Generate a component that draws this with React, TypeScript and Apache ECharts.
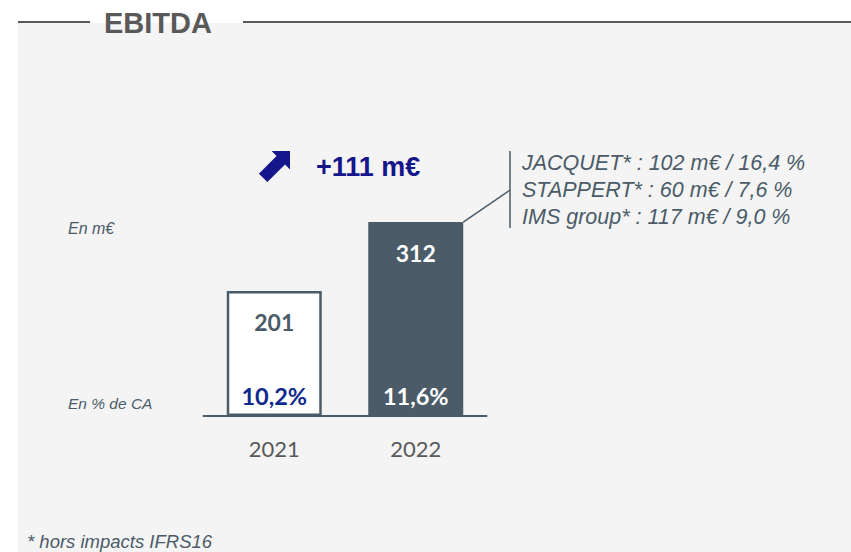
import React, { useEffect, useRef } from "react";
import * as echarts from "echarts";

const years = ["2021", "2022"];
const ebitda = [201, 312];
const margins = ["10,2%", "11,6%"];
const breakdown = [
  "JACQUET* : 102 m€ / 16,4 %",
  "STAPPERT* : 60 m€ / 7,6 %",
  "IMS group* : 117 m€ / 9,0 %",
];
const growthLabel = "+111 m€";
const title = "EBITDA";
const unitLabel = "En m€";
const marginLabel = "En % de CA";
const footnote = "* hors impacts IFRS16";

const SLATE = "#4b5b68";
const NAVY = "#16168c";
const ARIAL = "'Liberation Sans', Arial, sans-serif";
const CAL = "Lato, 'Open Sans', sans-serif";

function arrowPoints(tipX: number, tipY: number) {
  const s = Math.SQRT1_2;
  const u = [s, -s];
  const n = [s, s];
  const L = 38, h = 13, H = 26, w = 12;
  const tail = [tipX - L * u[0], tipY - L * u[1]];
  const neck = [tipX - h * u[0], tipY - h * u[1]];
  const p = (b: number[], k: number) => [b[0] + k * n[0], b[1] + k * n[1]];
  return [
    p(tail, w / 2),
    p(neck, w / 2),
    p(neck, H / 2),
    [tipX, tipY],
    p(neck, -H / 2),
    p(neck, -w / 2),
    p(tail, -w / 2),
  ];
}

export default function App() {
  const ref = useRef<HTMLDivElement>(null);
  useEffect(() => {
    document.body.style.margin = "0";
    const chart = echarts.init(ref.current!, null, { renderer: "svg" });
    const option: any = {
      animation: false,
      backgroundColor: "#ffffff",
      grid: { left: 203.5, right: 364.5, top: 167.3, bottom: 136 },
      xAxis: {
        type: "category",
        data: years,
        axisLine: { lineStyle: { color: SLATE, width: 2 } },
        axisTick: { show: false },
        axisLabel: { color: "#595959", fontSize: 22, fontFamily: CAL, margin: 21 },
        z: 5,
      },
      yAxis: { type: "value", min: 0, max: 400, show: false, splitLine: { show: false } },
      graphic: [
        { type: "rect", z: -10, shape: { x: 18, y: 23, width: 833, height: 529 }, style: { fill: "#f4f4f4" } },
        { type: "line", shape: { x1: 18, y1: 22, x2: 90, y2: 22 }, style: { stroke: "#595959", lineWidth: 2 } },
        { type: "line", shape: { x1: 243, y1: 22, x2: 851, y2: 22 }, style: { stroke: "#595959", lineWidth: 2 } },
        { type: "text", x: 104, y: 23, style: { text: title, font: `bold 29px ${ARIAL}`, fill: "#595959", verticalAlign: "middle" } },
        { type: "polygon", shape: { points: arrowPoints(290, 151) }, style: { fill: NAVY } },
        { type: "text", x: 316, y: 167, style: { text: growthLabel, font: `bold 27px ${ARIAL}`, fill: NAVY, verticalAlign: "middle" } },
        { type: "text", x: 68, y: 228, style: { text: unitLabel, font: `italic 16px ${ARIAL}`, fill: SLATE, verticalAlign: "middle" } },
        { type: "text", x: 68, y: 403, style: { text: marginLabel, font: `italic 15.5px ${ARIAL}`, fill: SLATE, verticalAlign: "middle" } },
        { type: "text", x: 27, y: 541, style: { text: footnote, font: `italic 18.5px ${ARIAL}`, fill: SLATE, verticalAlign: "middle" } },
        ...breakdown.map((t, i) => ({
          type: "text", x: 522, y: 163 + i * 27,
          style: { text: t, font: `italic 21.5px ${ARIAL}`, fill: SLATE, verticalAlign: "middle" },
        })),
      ],
      series: [
        {
          type: "bar",
          barWidth: 95,
          data: ebitda.map((v, i) => ({
            value: v,
            itemStyle: i === 0
              ? { color: "#ffffff", borderColor: SLATE, borderWidth: 2.5 }
              : { color: SLATE },
            label: { color: i === 0 ? SLATE : "#ffffff" },
          })),
          label: {
            show: true, position: "insideTop", distance: 19,
            fontSize: 23, fontWeight: "bold", fontFamily: CAL,
          },
        },
        {
          type: "bar",
          barWidth: 95,
          barGap: "-100%",
          silent: true,
          data: ebitda.map((v, i) => ({
            value: v,
            itemStyle: { color: "rgba(0,0,0,0)", borderWidth: 0 },
            label: { color: i === 0 ? "#0f2a8f" : "#ffffff" },
          })),
          label: {
            show: true, position: "insideBottom", distance: 8,
            fontSize: 23.5, fontWeight: "bold", fontFamily: CAL,
            formatter: (p: any) => margins[p.dataIndex],
          },
        },
      ],
    };
    chart.setOption(option);
    const top = chart.convertToPixel({ seriesIndex: 0 }, [years[1], ebitda[1]]) as number[];
    const x0 = top[0] + 47.5;
    const y0 = top[1];
    chart.setOption({
      graphic: [
        ...option.graphic,
        { type: "line", shape: { x1: x0, y1: y0, x2: 510, y2: 190 }, style: { stroke: SLATE, lineWidth: 1.5 } },
        { type: "line", shape: { x1: 510, y1: 151, x2: 510, y2: 228 }, style: { stroke: SLATE, lineWidth: 1.5 } },
      ],
    });
    return () => chart.dispose();
  }, []);
  return <div ref={ref} style={{ width: 851, height: 552 }} />;
}
